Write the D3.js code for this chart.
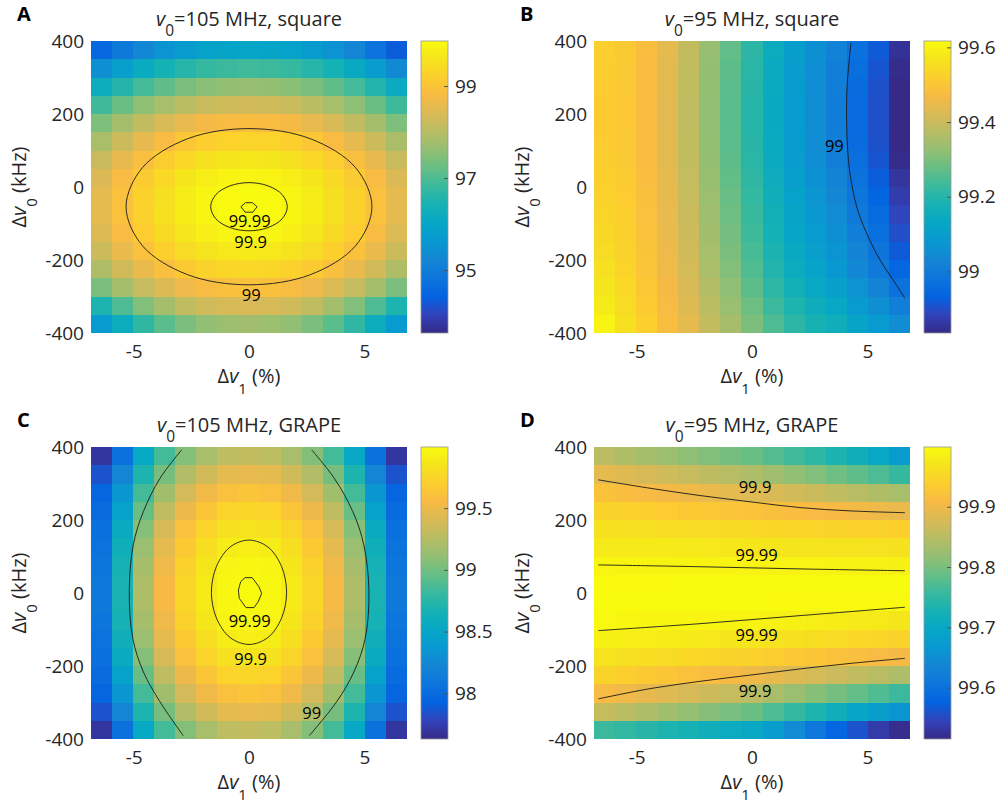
<!DOCTYPE html>
<html>
<head>
<meta charset="utf-8">
<script src="https://cdn.jsdelivr.net/npm/d3@7"></script>
<style>
	body { margin: 0; background: #fff; }
	svg text { font-family: "Open Sans", sans-serif; fill: #262626; }
</style>
</head>
<body>
<svg id="fig" width="1000" height="805"></svg>
<script>
// grid of the simulated offsets (cell centres)
const xCenters = [-6.4, -5.5, -4.6, -3.7, -2.7, -1.8, -0.9, 0, 0.9, 1.8, 2.7, 3.7, 4.6, 5.5, 6.4];
const yCenters = [375, 325, 275, 225, 175, 125, 75, 25, -25, -75, -125, -175, -225, -275, -325, -375];
const xTicks = [-5, 0, 5];
const yTicks = [-400, -200, 0, 200, 400];

// fidelity (%), rows top to bottom
const fidelityA = [
	[94.55, 94.93, 95.25, 95.51, 95.73, 95.88, 95.96, 95.99, 95.96, 95.88, 95.73, 95.51, 95.20, 94.80, 94.35],
	[95.43, 95.81, 96.13, 96.39, 96.61, 96.76, 96.84, 96.87, 96.84, 96.76, 96.61, 96.39, 96.10, 95.75, 95.30],
	[96.20, 96.58, 96.90, 97.16, 97.38, 97.53, 97.61, 97.64, 97.61, 97.53, 97.38, 97.16, 96.90, 96.55, 96.15],
	[96.86, 97.24, 97.56, 97.82, 98.04, 98.19, 98.27, 98.30, 98.27, 98.19, 98.04, 97.82, 97.56, 97.24, 96.86],
	[97.42, 97.80, 98.12, 98.38, 98.60, 98.75, 98.83, 98.86, 98.83, 98.75, 98.60, 98.38, 98.12, 97.80, 97.42],
	[97.86, 98.24, 98.56, 98.82, 99.04, 99.19, 99.27, 99.30, 99.27, 99.19, 99.04, 98.82, 98.56, 98.24, 97.86],
	[98.20, 98.57, 98.89, 99.16, 99.38, 99.52, 99.61, 99.64, 99.61, 99.52, 99.38, 99.16, 98.89, 98.57, 98.20],
	[98.42, 98.80, 99.12, 99.38, 99.61, 99.75, 99.84, 99.86, 99.84, 99.75, 99.61, 99.38, 99.12, 98.80, 98.42],
	[98.54, 98.92, 99.24, 99.50, 99.72, 99.87, 99.95, 99.98, 99.95, 99.87, 99.72, 99.50, 99.24, 98.92, 98.54],
	[98.55, 98.93, 99.25, 99.51, 99.73, 99.88, 99.96, 99.99, 99.96, 99.88, 99.73, 99.51, 99.25, 98.93, 98.55],
	[98.45, 98.83, 99.15, 99.41, 99.63, 99.78, 99.86, 99.89, 99.86, 99.78, 99.63, 99.41, 99.15, 98.83, 98.45],
	[98.24, 98.62, 98.94, 99.20, 99.42, 99.57, 99.65, 99.68, 99.65, 99.57, 99.42, 99.20, 98.94, 98.62, 98.24],
	[97.92, 98.30, 98.62, 98.88, 99.10, 99.25, 99.33, 99.36, 99.33, 99.25, 99.10, 98.88, 98.62, 98.30, 97.92],
	[97.40, 97.80, 98.15, 98.43, 98.67, 98.82, 98.91, 98.94, 98.91, 98.82, 98.67, 98.43, 98.15, 97.80, 97.40],
	[96.50, 97.00, 97.45, 97.80, 98.10, 98.27, 98.36, 98.40, 98.36, 98.27, 98.10, 97.80, 97.45, 97.00, 96.50],
	[95.70, 96.20, 96.70, 97.10, 97.40, 97.60, 97.70, 97.75, 97.70, 97.60, 97.40, 97.10, 96.70, 96.20, 95.70]
];
const fidelityB = [
	[99.520, 99.510, 99.480, 99.440, 99.390, 99.330, 99.270, 99.210, 99.150, 99.100, 99.060, 99.020, 98.970, 98.920, 98.850],
	[99.516, 99.508, 99.478, 99.438, 99.388, 99.327, 99.266, 99.206, 99.145, 99.095, 99.054, 99.013, 98.963, 98.912, 98.840],
	[99.514, 99.506, 99.477, 99.437, 99.386, 99.325, 99.264, 99.203, 99.142, 99.091, 99.050, 99.009, 98.958, 98.906, 98.834],
	[99.512, 99.505, 99.476, 99.436, 99.385, 99.324, 99.262, 99.201, 99.140, 99.089, 99.048, 99.006, 98.955, 98.903, 98.830],
	[99.512, 99.505, 99.476, 99.436, 99.385, 99.324, 99.262, 99.201, 99.140, 99.089, 99.048, 99.006, 98.955, 98.903, 98.830],
	[99.514, 99.506, 99.477, 99.437, 99.386, 99.325, 99.264, 99.203, 99.142, 99.091, 99.050, 99.009, 98.958, 98.906, 98.834],
	[99.516, 99.508, 99.478, 99.438, 99.388, 99.327, 99.266, 99.206, 99.145, 99.095, 99.054, 99.013, 98.963, 98.912, 98.840],
	[99.522, 99.512, 99.481, 99.441, 99.392, 99.332, 99.272, 99.213, 99.153, 99.103, 99.064, 99.024, 98.975, 98.925, 98.856],
	[99.528, 99.515, 99.484, 99.444, 99.395, 99.336, 99.278, 99.219, 99.160, 99.111, 99.072, 99.034, 98.985, 98.937, 98.870],
	[99.534, 99.519, 99.487, 99.447, 99.399, 99.341, 99.284, 99.226, 99.168, 99.120, 99.082, 99.045, 98.997, 98.951, 98.886],
	[99.540, 99.523, 99.490, 99.450, 99.403, 99.345, 99.290, 99.233, 99.175, 99.128, 99.090, 99.055, 99.008, 98.963, 98.900],
	[99.548, 99.528, 99.494, 99.454, 99.408, 99.351, 99.298, 99.242, 99.185, 99.139, 99.102, 99.069, 99.023, 98.980, 98.920],
	[99.556, 99.533, 99.498, 99.458, 99.413, 99.357, 99.306, 99.251, 99.195, 99.150, 99.114, 99.083, 99.038, 98.997, 98.940],
	[99.570, 99.541, 99.505, 99.465, 99.421, 99.367, 99.320, 99.266, 99.212, 99.168, 99.134, 99.107, 99.063, 99.025, 98.974],
	[99.584, 99.550, 99.512, 99.472, 99.430, 99.378, 99.334, 99.282, 99.230, 99.188, 99.156, 99.132, 99.090, 99.056, 99.010],
	[99.600, 99.560, 99.520, 99.480, 99.440, 99.390, 99.350, 99.300, 99.250, 99.210, 99.180, 99.160, 99.120, 99.090, 99.050]
];
const fidelityC = [
	[97.70, 98.05, 98.53, 98.85, 99.06, 99.20, 99.28, 99.31, 99.28, 99.20, 99.06, 98.85, 98.53, 98.05, 97.70],
	[97.85, 98.22, 98.70, 99.02, 99.23, 99.37, 99.46, 99.48, 99.46, 99.37, 99.23, 99.02, 98.70, 98.22, 97.85],
	[97.95, 98.36, 98.85, 99.17, 99.38, 99.52, 99.60, 99.63, 99.60, 99.52, 99.38, 99.17, 98.85, 98.36, 97.95],
	[98.00, 98.47, 98.97, 99.29, 99.50, 99.64, 99.73, 99.75, 99.73, 99.64, 99.50, 99.29, 98.97, 98.47, 98.00],
	[98.03, 98.56, 99.07, 99.39, 99.60, 99.74, 99.82, 99.85, 99.82, 99.74, 99.60, 99.39, 99.07, 98.56, 98.03],
	[98.06, 98.62, 99.14, 99.46, 99.67, 99.81, 99.90, 99.92, 99.90, 99.81, 99.67, 99.46, 99.14, 98.62, 98.06],
	[98.08, 98.66, 99.19, 99.51, 99.72, 99.86, 99.95, 99.97, 99.95, 99.86, 99.72, 99.51, 99.19, 98.66, 98.08],
	[98.10, 98.68, 99.22, 99.54, 99.75, 99.89, 99.97, 99.995, 99.97, 99.89, 99.75, 99.54, 99.22, 98.68, 98.10],
	[98.10, 98.68, 99.22, 99.54, 99.75, 99.89, 99.97, 99.995, 99.97, 99.89, 99.75, 99.54, 99.22, 98.68, 98.10],
	[98.08, 98.66, 99.19, 99.51, 99.72, 99.86, 99.95, 99.97, 99.95, 99.86, 99.72, 99.51, 99.19, 98.66, 98.08],
	[98.06, 98.62, 99.14, 99.46, 99.67, 99.81, 99.90, 99.92, 99.90, 99.81, 99.67, 99.46, 99.14, 98.62, 98.06],
	[98.03, 98.56, 99.07, 99.39, 99.60, 99.74, 99.82, 99.85, 99.82, 99.74, 99.60, 99.39, 99.07, 98.56, 98.03],
	[98.00, 98.47, 98.97, 99.29, 99.50, 99.64, 99.73, 99.75, 99.73, 99.64, 99.50, 99.29, 98.97, 98.47, 98.00],
	[97.95, 98.36, 98.85, 99.17, 99.38, 99.52, 99.60, 99.63, 99.60, 99.52, 99.38, 99.17, 98.85, 98.36, 97.95],
	[97.85, 98.22, 98.70, 99.02, 99.23, 99.37, 99.46, 99.48, 99.46, 99.37, 99.23, 99.02, 98.70, 98.22, 97.85],
	[97.70, 98.05, 98.53, 98.85, 99.06, 99.20, 99.28, 99.31, 99.28, 99.20, 99.06, 98.85, 98.53, 98.05, 97.70]
];
const fidelityD = [
	[99.850, 99.842, 99.833, 99.825, 99.815, 99.807, 99.798, 99.790, 99.776, 99.762, 99.748, 99.732, 99.718, 99.700, 99.675],
	[99.890, 99.883, 99.876, 99.869, 99.861, 99.854, 99.847, 99.840, 99.829, 99.817, 99.806, 99.794, 99.783, 99.771, 99.755],
	[99.920, 99.915, 99.910, 99.905, 99.900, 99.895, 99.890, 99.885, 99.878, 99.871, 99.864, 99.856, 99.849, 99.842, 99.835],
	[99.945, 99.942, 99.939, 99.935, 99.932, 99.929, 99.925, 99.922, 99.918, 99.914, 99.910, 99.907, 99.903, 99.899, 99.895],
	[99.965, 99.963, 99.962, 99.960, 99.958, 99.956, 99.955, 99.953, 99.951, 99.949, 99.947, 99.946, 99.944, 99.942, 99.940],
	[99.978, 99.977, 99.976, 99.976, 99.975, 99.974, 99.973, 99.972, 99.971, 99.970, 99.969, 99.968, 99.967, 99.966, 99.965],
	[99.991, 99.990, 99.990, 99.990, 99.990, 99.990, 99.989, 99.989, 99.989, 99.988, 99.988, 99.987, 99.987, 99.986, 99.985],
	[99.998, 99.998, 99.998, 99.998, 99.999, 99.999, 99.999, 99.999, 99.999, 99.999, 99.999, 99.999, 99.999, 99.999, 99.999],
	[99.999, 99.999, 99.999, 99.999, 99.999, 99.999, 99.999, 99.999, 99.998, 99.998, 99.997, 99.997, 99.996, 99.996, 99.995],
	[99.995, 99.994, 99.993, 99.992, 99.992, 99.991, 99.990, 99.989, 99.987, 99.984, 99.982, 99.980, 99.977, 99.975, 99.972],
	[99.985, 99.983, 99.981, 99.979, 99.976, 99.974, 99.972, 99.970, 99.966, 99.963, 99.959, 99.956, 99.952, 99.949, 99.945],
	[99.968, 99.964, 99.961, 99.957, 99.953, 99.949, 99.946, 99.942, 99.937, 99.931, 99.926, 99.921, 99.916, 99.910, 99.905],
	[99.945, 99.939, 99.932, 99.926, 99.919, 99.913, 99.906, 99.900, 99.891, 99.883, 99.874, 99.866, 99.857, 99.849, 99.840],
	[99.910, 99.901, 99.893, 99.884, 99.876, 99.867, 99.859, 99.850, 99.837, 99.824, 99.811, 99.799, 99.786, 99.773, 99.760],
	[99.860, 99.850, 99.840, 99.830, 99.820, 99.810, 99.800, 99.790, 99.771, 99.753, 99.734, 99.716, 99.697, 99.679, 99.660],
	[99.760, 99.751, 99.743, 99.734, 99.726, 99.717, 99.709, 99.700, 99.676, 99.645, 99.610, 99.580, 99.560, 99.535, 99.520]
];

// colour limits and colorbar ticks
const climA = [93.63, 99.98], cbTicksA = [95, 97, 99];
const climB = [98.835, 99.617], cbTicksB = [99, 99.2, 99.4, 99.6];
const climC = [97.63, 99.995], cbTicksC = [98, 98.5, 99, 99.5];
const climD = [99.515, 99.999], cbTicksD = [99.6, 99.7, 99.8, 99.9];

// contour lines, [Δν1 %, Δν0 kHz]
const contA99 = [[5.33,-54],[4.62,53],[2.67,132],[0,160],[-2.67,132],[-4.62,53],[-5.33,-54],[-4.62,-161],[-2.67,-240],[0,-268],[2.67,-240],[4.62,-161]];
const contA999 = [[1.66,-54],[1.44,-21],[0.83,3],[0,12],[-0.83,3],[-1.44,-21],[-1.66,-54],[-1.44,-87],[-0.83,-111],[0,-120],[0.83,-111],[1.44,-87]];
const contA9999 = [[-0.35,-54],[-0.15,-43],[0.15,-43],[0.35,-54],[0.17,-69],[-0.17,-69]];
const contB99 = [[4.29,394],[4.13,284],[4.10,211],[4.13,120],[4.25,37],[4.54,-54],[4.97,-127],[5.55,-200],[6.12,-255],[6.63,-305]];
const contC99L = [[-2.92,392],[-3.86,314],[-4.58,223],[-5.02,131],[-5.19,4],[-5.04,-124],[-4.58,-216],[-3.86,-298],[-2.85,-391]];
const contC99R = [[2.72,392],[3.70,314],[4.50,223],[4.98,131],[5.20,4],[5.04,-124],[4.55,-216],[3.80,-298],[2.61,-391]];
const contC999 = [[1.63,2],[1.41,73],[0.82,126],[0,145],[-0.82,126],[-1.41,73],[-1.63,2],[-1.41,-69],[-0.82,-122],[0,-141],[0.82,-122],[1.41,-69]];
const contC9999 = [[-0.17,42],[0.14,42],[0.43,17],[0.55,-1],[0.40,-24],[0.22,-40],[-0.13,-40],[-0.42,-15],[-0.46,8],[-0.36,31]];
const contD999Up = [[-6.66,310],[-4.42,287],[-2.25,267],[-0.09,250],[2.08,234],[4.25,225],[6.63,220]];
const contD9999Up = [[-6.66,77],[-2.25,72],[2.08,66],[6.63,61]];
const contD9999Lo = [[-6.66,-103],[-2.25,-84],[2.08,-62],[6.63,-39]];
const contD999Lo = [[-6.66,-290],[-4.42,-262],[-2.25,-242],[-0.09,-225],[2.08,-208],[4.25,-193],[6.63,-179]];

// contour labels [x, y, text]
const labelsA = [[0.03,-93,'99.99'],[0.07,-152,'99.9'],[0.1,-296,'99']];
const labelsB = [[3.57,113,'99']];
const labelsC = [[0.03,-77,'99.99'],[0.07,-182,'99.9'],[2.72,-330,'99']];
const labelsD = [[0.13,291,'99.9'],[0.2,104,'99.99'],[0.2,-115,'99.99'],[0.13,-270,'99.9']];

// parula colour map stops
const parulaColors = ['#352a87','#3243ba','#0363e1','#0d75dc','#1485d4','#0998d1','#06a7c6','#15b1b4',
	'#38b99e','#65be86','#92bf73','#b7bd64','#d9ba56','#f8ba44','#fcce2e','#f5e41d','#f9fb0e'];

const plotW = 316, plotH = 292;
const xDomain = [-6.85, 6.85];
let svg = d3.select('#fig');
let parula = d3.piecewise(d3.interpolateRgb, parulaColors);

// colorbar gradient, shared
let grad = svg.append('defs').append('linearGradient')
	.attr('id', 'parulaGrad')
	.attr('x1', 0).attr('y1', 1).attr('x2', 0).attr('y2', 0);
parulaColors.forEach(function(c, i) {
	grad.append('stop')
		.attr('offset', (i / (parulaColors.length - 1) * 100) + '%')
		.attr('stop-color', c);
});

function subText(sel, parts, size) {
	//parts: Δ, italic v, subscript, rest
	sel.append('tspan').text(parts[0]);
	sel.append('tspan').attr('font-style', 'italic').text('v');
	sel.append('tspan').attr('font-size', size.sub).attr('dy', size.dy).text(parts[1]);
	sel.append('tspan').attr('dy', -size.dy).text(parts[2]);
}

function drawPanel(p) {
	let g = svg.append('g').attr('transform', 'translate(' + p.left + ',' + p.top + ')');
	let x = d3.scaleLinear().domain(xDomain).range([0, plotW]);
	let y = d3.scaleLinear().domain([-400, 400]).range([plotH, 0]);
	let xb = d3.scaleBand().domain(xCenters).range([0, plotW]);
	let yb = d3.scaleBand().domain(yCenters).range([0, plotH]);
	let color = d3.scaleSequential(parula).domain(p.clim).clamp(true);

	let clipId = 'clip' + p.letter;
	g.append('clipPath').attr('id', clipId)
		.append('rect').attr('width', plotW).attr('height', plotH);

	let cells = [];
	p.values.forEach(function(row, i) {
		row.forEach(function(v, j) {
			cells.push({x: xCenters[j], y: yCenters[i], v: v});
		});
	});
	let plot = g.append('g').attr('clip-path', 'url(#' + clipId + ')');
	plot.selectAll('rect.cell').data(cells).enter().append('rect')
		.attr('class', 'cell')
		.attr('x', d => xb(d.x))
		.attr('y', d => yb(d.y))
		.attr('width', xb.bandwidth() + 0.6)
		.attr('height', yb.bandwidth() + 0.6)
		.attr('fill', d => color(d.v))
		.attr('shape-rendering', 'crispEdges');

	let line = d3.line().x(d => x(d[0])).y(d => y(d[1]));
	p.contours.forEach(function(c) {
		line.curve(c.curve);
		plot.append('path')
			.attr('d', line(c.pts))
			.attr('fill', 'none')
			.attr('stroke', '#1a1a1a')
			.attr('stroke-width', 0.9);
	});
	plot.selectAll('text.clabel').data(p.labels).enter().append('text')
		.attr('class', 'clabel')
		.attr('x', d => x(d[0]))
		.attr('y', d => y(d[1]))
		.attr('text-anchor', 'middle')
		.attr('dy', '0.35em')
		.attr('font-size', 16.5)
		.style('fill', '#000')
		.text(d => d[2]);

	// axes, tick marks hidden under the image as in the original
	let ax = g.append('g').attr('transform', 'translate(0,' + plotH + ')')
		.call(d3.axisBottom(x).tickValues(xTicks).tickFormat(d => String(d)).tickSize(0).tickPadding(12));
	let ay = g.append('g')
		.call(d3.axisLeft(y).tickValues(yTicks).tickFormat(d => String(d)).tickSize(0).tickPadding(7));
	[ax, ay].forEach(function(a) {
		a.select('.domain').remove();
		a.attr('font-family', null).attr('font-size', 19);
	});

	// colorbar
	let cb = g.append('g').attr('transform', 'translate(330,0)');
	let cbScale = d3.scaleLinear().domain(p.clim).range([plotH, 0]);
	cb.append('rect')
		.attr('width', 27).attr('height', plotH)
		.attr('fill', 'url(#parulaGrad)')
		.attr('stroke', '#969696')
		.attr('stroke-width', 0.8);
	let cax = cb.append('g').attr('transform', 'translate(27,0)')
		.call(d3.axisRight(cbScale).tickValues(p.cbTicks).tickFormat(d => d).tickSizeInner(-4).tickSizeOuter(0).tickPadding(7));
	cax.select('.domain').remove();
	cax.selectAll('line').attr('stroke', '#555');
	cax.attr('font-family', null).attr('font-size', 19);

	// titles and labels
	g.append('text')
		.attr('x', -74).attr('y', -20)
		.attr('font-size', 20).attr('font-weight', 'bold')
		.style('fill', '#000')
		.text(p.letter);
	let title = g.append('text')
		.attr('x', plotW / 2).attr('y', -15)
		.attr('text-anchor', 'middle')
		.attr('font-size', 20);
	subText(title, ['', '0', p.title], {sub: 15.5, dy: 10});
	let xl = g.append('text')
		.attr('x', plotW / 2).attr('y', 342)
		.attr('text-anchor', 'middle')
		.attr('font-size', 20);
	subText(xl, ['Δ', '1', ' (%)'], {sub: 15, dy: 11});
	let yl = g.append('text')
		.attr('transform', 'translate(-65,' + (plotH / 2) + ') rotate(-90)')
		.attr('text-anchor', 'middle')
		.attr('font-size', 20);
	subText(yl, ['Δ', '0', ' (kHz)'], {sub: 15, dy: 11});
}

let panels = [
	{letter: 'A', left: 91, top: 41, title: '=105 MHz, square', values: fidelityA, clim: climA, cbTicks: cbTicksA,
		contours: [
			{pts: contA99, curve: d3.curveCatmullRomClosed},
			{pts: contA999, curve: d3.curveCatmullRomClosed},
			{pts: contA9999, curve: d3.curveLinearClosed}
		], labels: labelsA},
	{letter: 'B', left: 594, top: 41, title: '=95 MHz, square', values: fidelityB, clim: climB, cbTicks: cbTicksB,
		contours: [
			{pts: contB99, curve: d3.curveCatmullRom}
		], labels: labelsB},
	{letter: 'C', left: 91, top: 447, title: '=105 MHz, GRAPE', values: fidelityC, clim: climC, cbTicks: cbTicksC,
		contours: [
			{pts: contC99L, curve: d3.curveCatmullRom},
			{pts: contC99R, curve: d3.curveCatmullRom},
			{pts: contC999, curve: d3.curveCatmullRomClosed},
			{pts: contC9999, curve: d3.curveLinearClosed}
		], labels: labelsC},
	{letter: 'D', left: 594, top: 447, title: '=95 MHz, GRAPE', values: fidelityD, clim: climD, cbTicks: cbTicksD,
		contours: [
			{pts: contD999Up, curve: d3.curveCatmullRom},
			{pts: contD9999Up, curve: d3.curveCatmullRom},
			{pts: contD9999Lo, curve: d3.curveCatmullRom},
			{pts: contD999Lo, curve: d3.curveCatmullRom}
		], labels: labelsD}
];
panels.forEach(drawPanel);
</script>
</body>
</html>
